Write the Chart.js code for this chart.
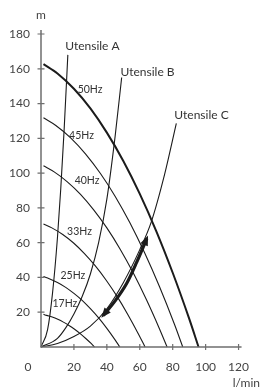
<!DOCTYPE html>
<html>
<head>
<meta charset="utf-8">
<script src="https://cdn.jsdelivr.net/npm/chart.js@4.4.0/dist/chart.umd.min.js"></script>
<style>
  html, body { margin: 0; padding: 0; background: #fff; }
</style>
</head>
<body>
<canvas id="pumpChart" width="262" height="389"></canvas>
<script>
// Pump curves: flow (l/min) against head (m), one pair of arrays per frequency
const q50 = [1.5, 10, 20, 30, 40, 50, 60, 70, 80, 90, 95.7];
const h50 = [162.7, 157.3, 148.5, 137.2, 123.3, 107, 88.1, 66.7, 42.7, 16.3, 0];
const q45 = [1.5, 9, 18, 27, 36, 45, 54, 63, 72, 81, 86.1];
const h45 = [131.8, 127.4, 120.3, 111.1, 99.9, 86.7, 71.4, 54.0, 34.6, 13.2, 0];
const q40 = [1.5, 8, 16, 24, 32, 40, 48, 56, 64, 72, 76.6];
const h40 = [104.2, 100.7, 95.0, 87.8, 78.9, 68.5, 56.4, 42.7, 27.3, 10.4, 0];
const q33 = [1.5, 6.6, 13.2, 19.8, 26.4, 33, 39.6, 46.2, 52.8, 59.4, 63.2];
const h33 = [70.8, 68.5, 64.7, 59.8, 53.7, 46.6, 38.4, 29.1, 18.6, 7.1, 0];
const q25 = [1.5, 5, 10, 15, 20, 25, 30, 35, 40, 45, 47.9];
const h25 = [40.6, 39.3, 37.1, 34.3, 30.8, 26.8, 22.0, 16.7, 10.7, 4.1, 0];
const q17 = [1.5, 3.4, 6.8, 10.2, 13.6, 17, 20.4, 23.8, 27.2, 30.6, 32.5];
const h17 = [18.8, 18.2, 17.2, 15.9, 14.3, 12.4, 10.2, 7.7, 4.9, 1.9, 0];

// System curves ("Utensile")
const qA = [0, 4, 7, 10, 12, 14, 16.3];
const hA = [0, 10, 31, 63, 91, 124, 168];
const qB = [0, 10, 15, 20, 25, 30, 35, 40, 45, 49];
const hB = [0, 5, 11, 19, 29, 42, 60, 85, 121, 155];
const qC = [0, 10, 20, 30, 40, 50, 60, 67, 75, 82.2];
const hC = [0, 2, 6, 12, 22, 37, 56, 72, 99, 128.6];

// Operating range arrow
const qArrow = [37.8, 45, 52, 58, 64.3];
const hArrow = [18.1, 26.5, 36.5, 48.5, 62.5];

const freqNames = ["50Hz", "45Hz", "40Hz", "33Hz", "25Hz", "17Hz"];
const systemNames = ["Utensile A", "Utensile B", "Utensile C"];

// where the curve names sit, in chart units (flow, head)
const freqLabelAt = [[29.8, 147.8], [24.6, 121.3], [28, 95.5], [23.4, 66.1], [19.4, 40.8], [14.5, 24.7]];
const systemLabelAt = [[14.7, 173.1], [48.3, 158.1], [81, 133.4]];

const INK = "#1b1b1b";
const AXIS = "#6f6f6f";
const FONT = "Lato, 'Open Sans', sans-serif";

function toPoints(q, h) {
  return q.map((x, i) => ({ x: x, y: h[i] }));
}

function curve(q, h, width) {
  return {
    data: toPoints(q, h),
    showLine: true,
    borderColor: INK,
    borderWidth: width,
    pointRadius: 0,
    cubicInterpolationMode: "monotone",
    clip: false,
  };
}

/**
 * Draws axis lines with crossing tick marks, axis names, the lone "0"
 * and the curve names on top of the chart.
 */
const decorations = {
  id: "decorations",
  afterDatasetsDraw(chart) {
    const ctx = chart.ctx;
    const xs = chart.scales.x;
    const ys = chart.scales.y;
    const left = xs.getPixelForValue(0);
    const bottom = ys.getPixelForValue(0);

    ctx.save();
    ctx.strokeStyle = AXIS;
    ctx.lineWidth = 1.5;
    ctx.beginPath();
    ctx.moveTo(left, ys.getPixelForValue(180) - 4);
    ctx.lineTo(left, bottom);
    ctx.lineTo(xs.getPixelForValue(120) + 3, bottom);
    ctx.stroke();

    ctx.lineWidth = 1.2;
    ctx.beginPath();
    ys.ticks.forEach((t) => {
      if (t.value === 0) return;
      const y = ys.getPixelForValue(t.value);
      ctx.moveTo(left - 3.5, y);
      ctx.lineTo(left + 3.5, y);
    });
    xs.ticks.forEach((t) => {
      if (t.value === 0) return;
      const x = xs.getPixelForValue(t.value);
      ctx.moveTo(x, bottom - 3);
      ctx.lineTo(x, bottom + 3);
    });
    ctx.stroke();

    // axis names and the shared zero
    ctx.fillStyle = "#444";
    ctx.font = "12px " + FONT;
    ctx.textBaseline = "middle";
    ctx.textAlign = "center";
    ctx.fillText("m", left, ys.getPixelForValue(180) - 19);
    ctx.fillText("0", left - 13, bottom + 20);
    ctx.textAlign = "right";
    ctx.fillText("l/min", chart.width - 2, bottom + 36);

    // curve names
    ctx.fillStyle = "#333";
    ctx.textAlign = "left";
    ctx.font = "12px " + FONT;
    systemNames.forEach((name, i) => {
      const p = systemLabelAt[i];
      ctx.fillText(name, xs.getPixelForValue(p[0]), ys.getPixelForValue(p[1]));
    });
    ctx.textAlign = "center";
    ctx.font = "10.5px " + FONT;
    freqNames.forEach((name, i) => {
      const p = freqLabelAt[i];
      ctx.fillText(name, xs.getPixelForValue(p[0]), ys.getPixelForValue(p[1]));
    });

    // arrow heads on both ends of the operating range
    const pts = chart.getDatasetMeta(chart.data.datasets.length - 1).data;
    const head = (tip, from) => {
      const a = Math.atan2(tip.y - from.y, tip.x - from.x);
      ctx.beginPath();
      ctx.moveTo(tip.x + Math.cos(a) * 3, tip.y + Math.sin(a) * 3);
      ctx.lineTo(tip.x - Math.cos(a) * 7 - Math.sin(a) * 4, tip.y - Math.sin(a) * 7 + Math.cos(a) * 4);
      ctx.lineTo(tip.x - Math.cos(a) * 7 + Math.sin(a) * 4, tip.y - Math.sin(a) * 7 - Math.cos(a) * 4);
      ctx.closePath();
      ctx.fill();
    };
    ctx.fillStyle = INK;
    head(pts[0], pts[1]);
    head(pts[pts.length - 1], pts[pts.length - 2]);
    ctx.restore();
  },
};

const tickFont = { family: FONT, size: 12 };

new Chart(document.getElementById("pumpChart"), {
  type: "scatter",
  data: {
    datasets: [
      curve(q50, h50, 2),
      curve(q45, h45, 1.1),
      curve(q40, h40, 1.1),
      curve(q33, h33, 1.1),
      curve(q25, h25, 1.1),
      curve(q17, h17, 1.1),
      curve(qA, hA, 1.1),
      curve(qB, hB, 1.1),
      curve(qC, hC, 1.1),
      curve(qArrow, hArrow, 3.2),
    ],
  },
  options: {
    responsive: false,
    animation: false,
    layout: { padding: { top: 34, right: 13, left: 0, bottom: 0 } },
    plugins: { legend: { display: false }, tooltip: { enabled: false } },
    scales: {
      x: {
        type: "linear",
        min: 0,
        max: 120,
        ticks: {
          stepSize: 20,
          padding: 13,
          color: "#444",
          font: tickFont,
          callback: (v) => (v === 0 ? "" : v),
        },
        grid: { display: false, drawTicks: false },
        border: { display: false },
        afterFit: (s) => { s.height = 42; },
      },
      y: {
        min: 0,
        max: 180,
        ticks: {
          stepSize: 20,
          padding: 11,
          color: "#444",
          font: tickFont,
          callback: (v) => (v === 0 ? "" : v),
        },
        grid: { display: false, drawTicks: false },
        border: { display: false },
        afterFit: (s) => { s.width = 41; },
      },
    },
  },
  plugins: [decorations],
});
</script>
</body>
</html>
